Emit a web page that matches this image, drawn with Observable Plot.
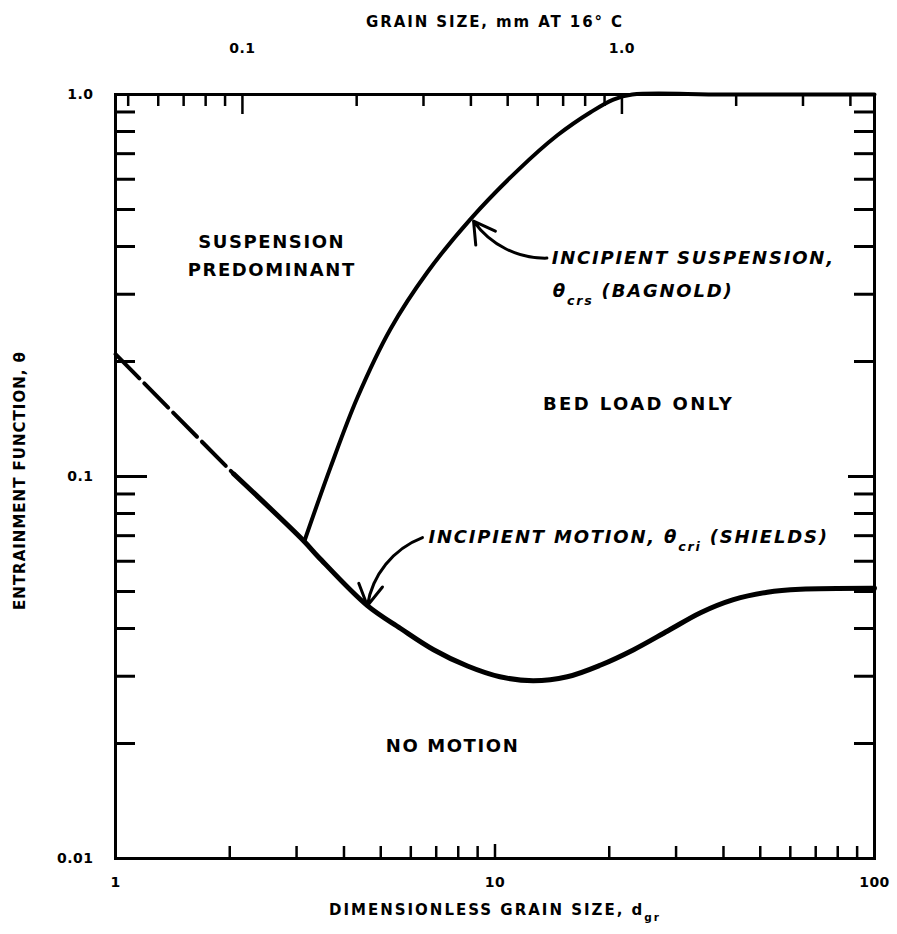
<!DOCTYPE html>
<html>
<head>
<meta charset="utf-8">
<script src="https://cdn.jsdelivr.net/npm/d3@7"></script>
<script src="https://cdn.jsdelivr.net/npm/@observablehq/plot@0.6"></script>
<style>
  html, body { margin: 0; padding: 0; background: #fff; }
  #chart svg { display: block; }
</style>
</head>
<body>
<div id="chart"></div>
<script>
// ---- data ----
// Shields curve: dimensionless grain size d_gr vs entrainment function theta
const shieldsDashedX = [1, 2.05];
const shieldsDashedY = [0.209, 0.1015];
const shieldsX = [2.05, 3.13, 3.43, 4.61, 5.64, 6.89, 8.46, 10.3, 12.6, 15.5, 19.0, 23.2, 28.5, 34.8, 42.5, 52.2, 63.8, 100];
const shieldsY = [0.1015, 0.0679, 0.0615, 0.0459, 0.0400, 0.0352, 0.0319, 0.0299, 0.0292, 0.0299, 0.0321, 0.0352, 0.0394, 0.0440, 0.0476, 0.0498, 0.0507, 0.051];
// Bagnold curve (incipient suspension)
const bagnoldX = [3.15, 3.69, 4.34, 5.30, 6.64, 8.62, 11.5, 14.6, 17.9, 20.5, 23, 40, 100];
const bagnoldY = [0.068, 0.106, 0.161, 0.243, 0.343, 0.472, 0.634, 0.782, 0.90, 0.97, 1.0, 1.0, 1.0];

// axes
const xMinorTicks = [2, 3, 4, 5, 6, 7, 8, 9, 20, 30, 40, 50, 60, 70, 80, 90];
const xLabelTicks = [1, 10, 100];
const xLabelText = ["1", "10", "100"];
const yMinorTicks = [0.02, 0.03, 0.04, 0.05, 0.06, 0.07, 0.08, 0.09, 0.2, 0.3, 0.4, 0.5, 0.6, 0.7, 0.8, 0.9];
const yMajorTicks = [0.1];
const yLabelTicks = [1, 0.1, 0.01];
const yLabelText = ["1.0", "0.1", "0.01"];
// top axis: grain size in mm at 16 °C
const mmPerDgr = 21.6; // d_gr corresponding to 1 mm
const mmMinorTicks = [0.05, 0.06, 0.07, 0.08, 0.09, 0.2, 0.3, 0.4, 0.5, 0.6, 0.7, 0.8, 0.9, 2, 3, 4];
const mmMajorTicks = [0.1, 1.0];
const mmLabelText = ["0.1", "1.0"];

// region labels & annotations
const regionText = ["SUSPENSION\nPREDOMINANT", "BED LOAD ONLY", "NO MOTION"];
const regionX = [2.58, 23.9, 7.73];
const regionY = [0.385, 0.158, 0.020];
const noteText = ["INCIPIENT SUSPENSION,", "θ_{crs} (BAGNOLD)", "INCIPIENT MOTION, θ_{cri} (SHIELDS)"];
const noteX = [14.1, 14.2, 6.68];
const noteY = [0.373, 0.306, 0.0692];
const arrowSusp = {x1: 13.7, y1: 0.373, x2: 8.78, y2: 0.466};
const arrowMotion = {x1: 6.44, y1: 0.0692, x2: 4.61, y2: 0.0459};

const W = 897, H = 934;
const mL = 115, mR = 23, mT = 94, mB = 76;
const fw = W - mL - mR, fh = H - mT - mB;
const FONT = "DejaVu Sans, Verdana, sans-serif";

const pts = (xs, ys) => xs.map((x, i) => ({x, y: ys[i]}));
const idx = (a) => a.map((_, i) => i);

const chart = Plot.plot({
  width: W, height: H,
  marginLeft: mL, marginRight: mR, marginTop: mT, marginBottom: mB,
  style: {fontFamily: FONT, fontWeight: "bold", color: "#000", background: "#fff"},
  x: {type: "log", domain: [1, 100], axis: null},
  y: {type: "log", domain: [0.01, 1], axis: null},
  marks: [
    // ticks (all pointing inward)
    Plot.ruleX(xMinorTicks, {x: d => d, insetTop: fh - 12, strokeWidth: 2.5}),
    Plot.ruleX([10], {x: d => d, insetTop: fh - 14, strokeWidth: 2.5}),
    Plot.ruleX(mmMinorTicks, {x: d => d * mmPerDgr, insetBottom: fh - 12, strokeWidth: 2.5}),
    Plot.ruleX(mmMajorTicks, {x: d => d * mmPerDgr, insetBottom: fh - 20, strokeWidth: 2.5}),
    Plot.ruleY(yMinorTicks, {y: d => d, insetRight: fw - 20, strokeWidth: 3}),
    Plot.ruleY(yMajorTicks, {y: d => d, insetRight: fw - 32, strokeWidth: 3}),
    Plot.ruleY(yMinorTicks, {y: d => d, insetLeft: fw - 20, strokeWidth: 3}),
    Plot.ruleY(yMajorTicks, {y: d => d, insetLeft: fw - 26, strokeWidth: 3}),
    Plot.frame({stroke: "#000", strokeWidth: 3}),
    // tick labels
    Plot.text(idx(xLabelTicks), {x: i => xLabelTicks[i], text: i => xLabelText[i], frameAnchor: "bottom", dy: 28, fontSize: 14}),
    Plot.text(idx(yLabelTicks), {y: i => yLabelTicks[i], text: i => yLabelText[i], frameAnchor: "left", textAnchor: "end", dx: -22, fontSize: 14}),
    Plot.text(idx(mmMajorTicks), {x: i => mmMajorTicks[i] * mmPerDgr, text: i => mmLabelText[i], frameAnchor: "top", dy: -51, fontSize: 14}),
    // axis titles
    Plot.text(["DIMENSIONLESS GRAIN SIZE, d_{gr}"], {frameAnchor: "bottom", dy: 56, fontSize: 15}),
    Plot.text(["GRAIN SIZE, mm AT 16° C"], {frameAnchor: "top", dy: -78, fontSize: 15}),
    Plot.text(["ENTRAINMENT FUNCTION, θ"], {frameAnchor: "left", textAnchor: "middle", dx: -95, dy: 4, rotate: -90, fontSize: 15}),
    // curves
    Plot.line(pts(shieldsDashedX, shieldsDashedY), {x: "x", y: "y", stroke: "#000", strokeWidth: 4, strokeDasharray: "34,7"}),
    Plot.line(pts(shieldsX, shieldsY), {x: "x", y: "y", stroke: "#000", strokeWidth: 5, curve: "catmull-rom"}),
    Plot.line(pts(bagnoldX, bagnoldY), {x: "x", y: "y", stroke: "#000", strokeWidth: 4, curve: "catmull-rom"}),
    // region labels
    Plot.text(idx(regionText), {x: i => regionX[i], y: i => regionY[i], text: i => regionText[i], fontSize: 18, lineHeight: 1.55}),
    // annotations
    Plot.text(idx(noteText), {x: i => noteX[i], y: i => noteY[i], text: i => noteText[i], textAnchor: "start", fontSize: 18, fontStyle: "italic"}),
    Plot.arrow([arrowSusp], {x1: "x1", y1: "y1", x2: "x2", y2: "y2", bend: 28, strokeWidth: 3, headLength: 12, stroke: "#000"}),
    Plot.arrow([arrowMotion], {x1: "x1", y1: "y1", x2: "x2", y2: "y2", bend: -30, strokeWidth: 3, headLength: 12, stroke: "#000"})
  ]
});

// letter spacing per text group (set on the rendered text elements)
const spacingFor = (s) => {
  if (regionText.some(t => t.replace(/\n/g, "") === s)) return s === "BED LOAD ONLY" ? 2.4 : 1.6;
  if (noteText.includes(s)) return 1.8;
  if (s.startsWith("DIMENSIONLESS")) return 2.0;
  if (s.startsWith("GRAIN SIZE")) return 1.9;
  if (s.startsWith("ENTRAINMENT")) return 1.0;
  return 0.5;
};
chart.querySelectorAll("text").forEach(t => {
  t.style.letterSpacing = spacingFor(t.textContent) + "px";
});

// subscripts: turn "_{...}" into real subscript tspans
chart.querySelectorAll("text").forEach(t => {
  if (t.querySelector("tspan")) return;
  const s = t.textContent;
  if (!s.includes("_{")) return;
  const parts = s.split(/(_\{[^}]*\})/);
  while (t.firstChild) t.removeChild(t.firstChild);
  parts.forEach(p => {
    if (!p) return;
    const ts = document.createElementNS("http://www.w3.org/2000/svg", "tspan");
    if (p.startsWith("_{")) {
      ts.textContent = p.slice(2, -1);
      ts.setAttribute("baseline-shift", "sub");
      ts.setAttribute("font-size", "0.7em");
    } else {
      ts.textContent = p;
    }
    t.appendChild(ts);
  });
});

document.getElementById("chart").appendChild(chart);
</script>
</body>
</html>
